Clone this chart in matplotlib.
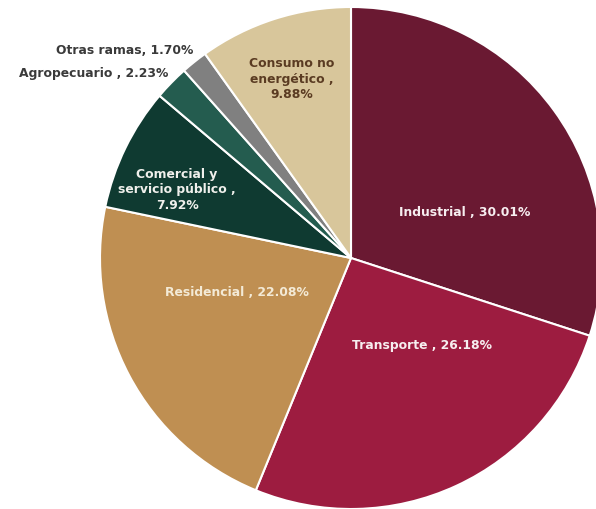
import matplotlib
matplotlib.use("Agg")
import matplotlib.pyplot as plt

categories = ["Industrial", "Transporte", "Residencial", "Comercial y\nservicio público",
              "Agropecuario", "Otras ramas", "Consumo no\nenergético"]
values = [30.01, 26.18, 22.08, 7.92, 2.23, 1.70, 9.88]
label_texts = ["Industrial , 30.01%", "Transporte , 26.18%", "Residencial , 22.08%",
               "Comercial y\nservicio público ,\n7.92%", "Agropecuario , 2.23%",
               "Otras ramas, 1.70%", "Consumo no\nenergético ,\n9.88%"]
colors = ["#6A1932", "#9D1C40", "#BF8F52", "#0F3A31", "#245C4F", "#808080", "#D8C69B"]
text_colors = ["#F7EEF0", "#F7EEF0", "#F3EAD6", "#F0F0EC", "#3A3A3A", "#3A3A3A", "#5A3B22"]
# label anchor positions in pixels (x, y from top) and alignment
label_pos = [(465, 213, "center"), (422, 345, "center"), (237, 293, "center"),
             (177, 190, "center"), (168, 73, "right"), (193, 51, "right"), (292, 79, "center")]

W, H = 596, 510
fig = plt.figure(figsize=(W / 100, H / 100), dpi=100)
ax = fig.add_axes([0, 0, 1, 1])
cx, cy, R = 351, H - 259, 251
wedges, _ = ax.pie(values, colors=colors, startangle=90, counterclock=False,
                   center=(cx, cy), radius=R,
                   wedgeprops=dict(edgecolor="white", linewidth=1.5))
ax.set_xlim(0, W)
ax.set_ylim(0, H)
ax.set_aspect("equal")
ax.axis("off")

for txt, col, (x, y, ha) in zip(label_texts, text_colors, label_pos):
    ax.text(x, H - y, txt, ha=ha, va="center", color=col, fontsize=8.9,
            family="DejaVu Sans", fontweight="bold", linespacing=1.25)

fig.savefig("out.png", dpi=100)
